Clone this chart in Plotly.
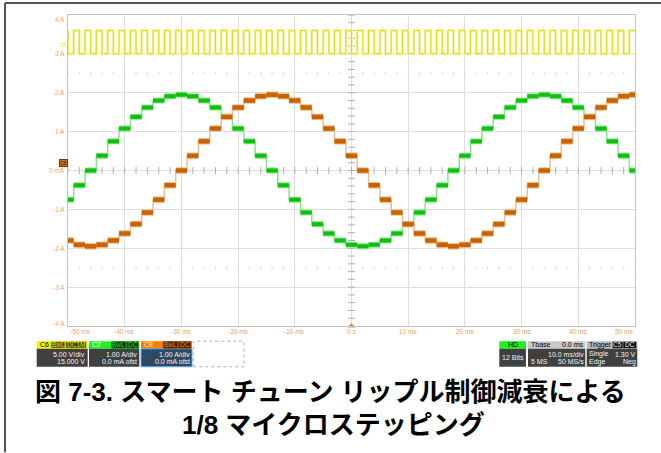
import plotly.graph_objects as go

# ---------------- data ----------------
# microstep boundaries (ms); each full microstep lasts 2 ms
step_edges_ms = [-50, -49, -47, -45, -43, -41, -39, -37, -35, -33, -31, -29, -27,
                 -25, -23, -21, -19, -17, -15, -13, -11, -9, -7, -5, -3, -1,
                 1, 3, 5, 7, 9, 11, 13, 15, 17, 19, 21, 23, 25, 27, 29, 31,
                 33, 35, 37, 39, 41, 43, 45, 47, 49, 50]
# C7 (green) coil current per microstep, A
green_A = [-0.75, -0.38, 0.00, 0.38, 0.75, 1.08, 1.38, 1.62, 1.80, 1.91, 1.95,
           1.91, 1.80, 1.62, 1.38, 1.08, 0.75, 0.38, 0.00,
           -0.38, -0.75, -1.08, -1.38, -1.62, -1.80, -1.91, -1.95,
           -1.91, -1.80, -1.62, -1.38, -1.08, -0.75, -0.38, 0.00,
           0.38, 0.75, 1.08, 1.38, 1.62, 1.80, 1.91, 1.95,
           1.91, 1.80, 1.62, 1.38, 1.08, 0.75, 0.38, 0.00]
# C8 (orange) coil current per microstep, A
orange_A = [-1.80, -1.91, -1.95, -1.91, -1.80, -1.62, -1.38, -1.08, -0.75, -0.38, 0.00,
            0.38, 0.75, 1.08, 1.38, 1.62, 1.80, 1.91, 1.95,
            1.91, 1.80, 1.62, 1.38, 1.08, 0.75, 0.38, 0.00,
            -0.38, -0.75, -1.08, -1.38, -1.62, -1.80, -1.91, -1.95,
            -1.91, -1.80, -1.62, -1.38, -1.08, -0.75, -0.38, 0.00,
            0.38, 0.75, 1.08, 1.38, 1.62, 1.80, 1.91, 1.95]
# C6 (yellow) STEP input, drawn on the same grid (divisions)
clock_edges_ms = list(range(-50, 51))
clock_level_start = 3.6
clock_levels = [3.0, 3.6, 3.0, 3.6, 3.0, 3.6, 3.0, 3.6, 3.0, 3.6,
                3.0, 3.6, 3.0, 3.6, 3.0, 3.6, 3.0, 3.6, 3.0, 3.6,
                3.0, 3.6, 3.0, 3.6, 3.0, 3.6, 3.0, 3.6, 3.0, 3.6,
                3.0, 3.6, 3.0, 3.6, 3.0, 3.6, 3.0, 3.6, 3.0, 3.6,
                3.0, 3.6, 3.0, 3.6, 3.0, 3.6, 3.0, 3.6, 3.0, 3.6,
                3.0, 3.6, 3.0, 3.6, 3.0, 3.6, 3.0, 3.6, 3.0, 3.6,
                3.0, 3.6, 3.0, 3.6, 3.0, 3.6, 3.0, 3.6, 3.0, 3.6,
                3.0, 3.6, 3.0, 3.6, 3.0, 3.6, 3.0, 3.6, 3.0, 3.6,
                3.0, 3.6, 3.0, 3.6, 3.0, 3.6, 3.0, 3.6, 3.0, 3.6,
                3.0, 3.6, 3.0, 3.6, 3.0, 3.6, 3.0, 3.6, 3.0, 3.6]

x_tick_vals = [-50, -40, -30, -20, -10, 0, 10, 20, 30, 40, 50]
x_tick_text = ['-50 ms', '-40 ms', '-30 ms', '-20 ms', '-10 ms', '0 s',
               '10 ms', '20 ms', '30 ms', '40 ms', '50 ms']
y_tick_vals = [4, 3, 2, 1, 0, -1, -2, -3, -4]
y_tick_text = ['4 A', '3 A', '2 A', '1 A', '0 mA', '-1 A', '-2 A', '-3 A', '-4 A']

caption_1 = '図 7-3. スマート チューン リップル制御減衰による'
caption_2 = '1/8 マイクロステッピング'

# ---------------- layout geometry ----------------
W_PX, H_PX = 661, 453
L, R, T, B = 68, 635, 15, 326.5
PW, PH = R - L, B - T


def px(x):
    return (x - L) / PW


def py(y):
    return (B - y) / PH


TICK_COLOR = '#f0a060'
FONT = 'Liberation Sans, Arial, sans-serif'

fig = go.Figure()

# ---- centre axes minor ticks & dotted marks ----
minor_x = [v for v in range(-50, 51, 2)]
minor_y = [round(-4 + 0.2 * i, 2) for i in range(41)]
fig.add_trace(go.Scatter(x=minor_x, y=[0] * len(minor_x), mode='markers',
                         marker=dict(symbol='line-ns', size=5,
                                     line=dict(width=1, color='#b0b0b0')),
                         hoverinfo='skip', showlegend=False))
fig.add_trace(go.Scatter(x=[0] * len(minor_y), y=minor_y, mode='markers',
                         marker=dict(symbol='line-ew', size=5,
                                     line=dict(width=1, color='#b0b0b0')),
                         hoverinfo='skip', showlegend=False))
for yy in (2.5, -2.5):
    fig.add_trace(go.Scatter(x=minor_x, y=[yy] * len(minor_x), mode='markers',
                             marker=dict(symbol='line-ns', size=2,
                                         line=dict(width=1, color='#dadada')),
                             hoverinfo='skip', showlegend=False))

# ---- yellow clock ----
cx = [clock_edges_ms[0]] + clock_edges_ms
cy = [clock_level_start] + clock_levels + [clock_levels[-1]]
fig.add_trace(go.Scatter(x=cx, y=cy, mode='lines', line_shape='hv',
                         line=dict(color='#f4f4a0', width=2.6),
                         hoverinfo='skip', showlegend=False))
fig.add_trace(go.Scatter(x=cx, y=cy, mode='lines', line_shape='hv',
                         line=dict(color='#e2dc00', width=1),
                         hoverinfo='skip', showlegend=False))


def add_steps(values, light, dark, band_w):
    sx = step_edges_ms
    tx = sx[:-1] + [sx[-1]]
    ty = values + [values[-1]]
    fig.add_trace(go.Scatter(x=tx, y=ty, mode='lines', line_shape='hv',
                             line=dict(color=light, width=1.5),
                             hoverinfo='skip', showlegend=False))
    bx, by = [], []
    for i, v in enumerate(values):
        bx += [sx[i], sx[i + 1], None]
        by += [v, v, None]
    fig.add_trace(go.Scatter(x=bx, y=by, mode='lines',
                             line=dict(color=light, width=band_w + 2),
                             hoverinfo='skip', showlegend=False))
    fig.add_trace(go.Scatter(x=bx, y=by, mode='lines',
                             line=dict(color=dark, width=band_w),
                             hoverinfo='skip', showlegend=False))


add_steps(green_A, '#86e886', '#10c010', 4)
add_steps(orange_A, '#f0bc90', '#c86400', 4.5)

# trigger marker
fig.add_trace(go.Scatter(x=[0], y=[-4], mode='markers', cliponaxis=False,
                         marker=dict(symbol='triangle-up', size=6, color='#f08020'),
                         hoverinfo='skip', showlegend=False))

shapes = []
# centre axes
shapes.append(dict(type='line', xref='x', yref='y', x0=-50, x1=50, y0=0, y1=0,
                   line=dict(color='#b4b4b4', width=1), layer='below'))
shapes.append(dict(type='line', xref='x', yref='y', x0=0, x1=0, y0=-4, y1=4,
                   line=dict(color='#b4b4b4', width=1), layer='below'))
# outer frame lines
shapes.append(dict(type='line', xref='paper', yref='paper', x0=px(5), x1=px(661),
                   y0=py(3), y1=py(3), line=dict(color='#555555', width=2)))
shapes.append(dict(type='line', xref='paper', yref='paper', x0=px(5), x1=px(5),
                   y0=py(3), y1=py(453), line=dict(color='#555555', width=2)))

annotations = []


def rect(x0, x1, y0, y1, fill, line_color=None, dash=None, width=1):
    shapes.append(dict(type='rect', xref='paper', yref='paper',
                       x0=px(x0), x1=px(x1), y0=py(y1), y1=py(y0),
                       fillcolor=fill,
                       line=dict(color=line_color or fill, width=width if line_color else 0,
                                 dash=dash or 'solid'),
                       layer='above'))


def text(x, y, s, color='#f2f2f2', anchor='right', size=7, bg=None):
    annotations.append(dict(xref='paper', yref='paper', x=px(x), y=py(y), text=s,
                            showarrow=False, xanchor=anchor, yanchor='middle',
                            font=dict(family=FONT, size=size, color=color),
                            bgcolor=bg, borderpad=0))


HY0, HY1, BY1 = 341.7, 349.3, 367.3
ROW1, ROW2 = 354.6, 362.4
HMID = (HY0 + HY1) / 2

# C6
rect(36.7, 87.7, HY0, HY1, '#f0f000')
rect(36.7, 87.7, HY1, BY1, '#404040')
rect(51, 65, HY0 + 0.6, HY1 - 0.6, '#3a3a10', '#d8d800')
rect(65.7, 86.5, HY0 + 0.6, HY1 - 0.6, '#3a3a10', '#d8d800')
text(38.5, HMID, 'C6', '#000000', 'left')
text(58, HMID, 'BwL', '#e8e800', 'center', 6.5)
text(76.1, HMID, 'DC1M', '#e8e800', 'center', 6.5)
text(86.3, ROW1, '5.00 V/div')
text(86.3, ROW2, '15.000 V')
# C7
rect(89, 139.3, HY0, HY1, '#22f022')
rect(89, 139.3, HY1, BY1, '#404040')
rect(111.7, 126, HY0 + 0.6, HY1 - 0.6, '#0a1a0a', '#10a010')
rect(126.7, 138.5, HY0 + 0.6, HY1 - 0.6, '#0a1a0a', '#10a010')
text(91, HMID, 'C7', '#f4fff4', 'left')
text(118.8, HMID, 'BwL', '#30f030', 'center', 6.5)
text(132.6, HMID, 'DC', '#30f030', 'center', 6.5)
text(138, ROW1, '1.00 A/div')
text(138, ROW2, '0.0 mA ofst')
# C8
rect(141, 192, HY0, HY1, '#ff7c00')
rect(141, 192, HY1, BY1, '#2c4a68', '#60aaee', width=1)
rect(163.3, 177.7, HY0 + 0.6, HY1 - 0.6, '#3a1c00', '#8a4000')
rect(178.7, 190.7, HY0 + 0.6, HY1 - 0.6, '#3a1c00', '#8a4000')
text(143, HMID, 'C8', '#fff0e0', 'left')
text(170.5, HMID, 'BwL', '#ff8c20', 'center', 6.5)
text(184.7, HMID, 'DC', '#ff8c20', 'center', 6.5)
text(190.5, ROW1, '1.00 A/div')
text(190.5, ROW2, '0.0 mA ofst')
# empty slot
rect(193.3, 244, HY0, BY1, 'rgba(0,0,0,0)', '#b0b0b0', 'dot')

# HD
rect(499.3, 526, HY0, HY1, '#22ee22')
rect(499.3, 526, HY1, BY1, '#404040')
text(512.6, HMID, 'HD', '#000000', 'center')
text(512.6, 357.9, '12 Bits', '#f2f2f2', 'center')
# Tbase
rect(528, 585.3, HY0, HY1, '#c8c8c8')
rect(528, 585.3, HY1, BY1, '#404040')
text(529.5, HMID, 'Tbase', '#000000', 'left')
text(584.5, HMID, '0.0 ms', '#000000', 'right')
text(584.5, ROW1, '10.0 ms/div')
text(529.5, ROW2, '5 MS', anchor='left')
text(584.5, ROW2, '50 MS/s')
# Trigger
rect(586.7, 637.3, HY0, HY1, '#b8b8b8')
rect(586.7, 637.3, HY1, BY1, '#404040')
rect(612.7, 622.7, HY0 + 0.6, HY1 - 0.6, '#101010')
rect(623.3, 636.3, HY0 + 0.6, HY1 - 0.6, '#101010')
text(588, HMID, 'Trigger', '#000000', 'left')
text(617.7, HMID, 'C5', '#f0f0f0', 'center', 6.5)
text(629.8, HMID, 'DC', '#f0f0f0', 'center', 6.5)
text(588, ROW1, 'Single', anchor='left')
text(636.5, ROW1, '1.30 V')
text(588, ROW2, 'Edge', anchor='left')
text(636.5, ROW2, 'Neg')

# tick labels
for i, (v, s) in enumerate(zip(x_tick_vals, x_tick_text)):
    anchor = 'left' if i == 0 else ('right' if i == len(x_tick_vals) - 1 else 'center')
    annotations.append(dict(xref='x', yref='paper', x=v, y=py(331.6), text=s,
                            showarrow=False, xanchor=anchor, yanchor='middle',
                            font=dict(family=FONT, size=6.5, color=TICK_COLOR)))
for i, (v, s) in enumerate(zip(y_tick_vals, y_tick_text)):
    ys = -4 if i == 0 else (3 if i == len(y_tick_vals) - 1 else 0)
    annotations.append(dict(xref='paper', yref='y', x=px(66.5), y=v, text=s,
                            showarrow=False, xanchor='right', yanchor='middle',
                            yshift=ys,
                            font=dict(family=FONT, size=6.5, color=TICK_COLOR)))

# channel markers at the left edge (placed just above the level labels)
annotations.append(dict(xref='paper', yref='y', x=px(68), y=0, text='C8',
                        showarrow=False, xanchor='right', yanchor='bottom',
                        yshift=3.5, font=dict(family=FONT, size=5, color='#3a1a00'),
                        bgcolor='#d07020', bordercolor='#7a3a00', borderwidth=1,
                        borderpad=0))
annotations.append(dict(xref='paper', yref='y', x=px(69), y=3, text='C6',
                        showarrow=False, xanchor='right', yanchor='bottom',
                        yshift=4, font=dict(family=FONT, size=5, color='#e8e800')))

# caption
CAP_FONT = 'Liberation Sans, Noto Sans CJK JP, sans-serif'
annotations.append(dict(xref='paper', yref='paper', x=px(330), y=py(393),
                        text='<b>' + caption_1 + '</b>', showarrow=False,
                        xanchor='center', yanchor='middle',
                        font=dict(family=CAP_FONT, size=26, color='#000000')))
annotations.append(dict(xref='paper', yref='paper', x=px(333), y=py(426),
                        text='<b>' + caption_2 + '</b>', showarrow=False,
                        xanchor='center', yanchor='middle',
                        font=dict(family=CAP_FONT, size=26, color='#000000')))

fig.update_layout(
    width=W_PX, height=H_PX,
    margin=dict(l=L, r=W_PX - R, t=T, b=H_PX - B, pad=0),
    paper_bgcolor='white', plot_bgcolor='white',
    showlegend=False,
    shapes=shapes, annotations=annotations,
    xaxis=dict(range=[-50, 50], dtick=10, tick0=0, showgrid=True, gridcolor='#dedede',
               gridwidth=1, zeroline=False, showticklabels=False, ticks='',
               showline=True, mirror=True, linecolor='#c4c4c4', linewidth=1,
               fixedrange=True),
    yaxis=dict(range=[-4, 4], dtick=1, tick0=0, showgrid=True, gridcolor='#dedede',
               gridwidth=1, zeroline=False, showticklabels=False, ticks='',
               showline=True, mirror=True, linecolor='#c4c4c4', linewidth=1,
               fixedrange=True),
)

fig.write_html('out.html',
               config={'displayModeBar': False},
               post_script="document.body.style.margin='0px';"
                           "document.body.style.overflow='hidden';")
